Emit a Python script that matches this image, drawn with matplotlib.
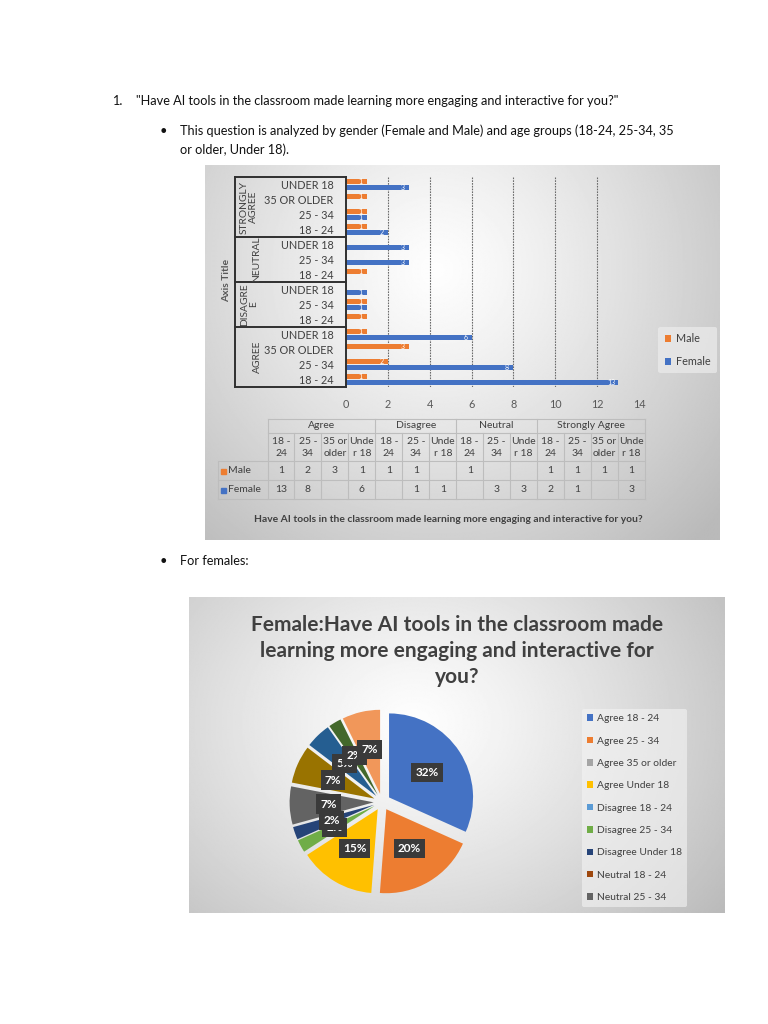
import numpy as np
import matplotlib
matplotlib.use('Agg')
import matplotlib.pyplot as plt
import matplotlib.transforms as mtrans
from matplotlib.lines import Line2D

plt.rcParams['font.family'] = ['Lato', 'DejaVu Sans']

# ---------------- data ----------------
groups = ['Agree', 'Disagree', 'Neutral', 'Strongly Agree']
group_axis_labels = ['AGREE', 'DISAGRE\nE', 'NEUTRAL', 'STRONGLY\nAGREE']
group_ages = [['18 - 24', '25 - 34', '35 or older', 'Under 18'],
              ['18 - 24', '25 - 34', 'Under 18'],
              ['18 - 24', '25 - 34', 'Under 18'],
              ['18 - 24', '25 - 34', '35 or older', 'Under 18']]
table_age_labels = {'18 - 24': '18 -\n24', '25 - 34': '25 -\n34',
                    '35 or older': '35 or\nolder', 'Under 18': 'Unde\nr 18'}
male = [1, 2, 3, 1, 1, 1, None, 1, None, None, 1, 1, 1, 1]
female = [13, 8, None, 6, None, 1, 1, None, 3, 3, 2, 1, None, 3]
series_names = ['Male', 'Female']
series_colors = ['#ED7D31', '#4472C4']
bar_title = 'Have AI tools in the classroom made learning more engaging and interactive for you?'
pie_title = 'Female:Have AI tools in the classroom made\nlearning more engaging and interactive for\nyou?'
pie_colors = ['#4472C4', '#ED7D31', '#A5A5A5', '#FFC000', '#5B9BD5', '#70AD47', '#264478',
              '#9E480E', '#636363', '#997300', '#255E91', '#43682B', '#698ED0', '#F1975A']
legend_shown = 9

ages_flat = [a for ages in group_ages for a in ages]
groups_flat = [g for g, ages in zip(groups, group_ages) for a in ages]
pie_labels = [f'{g} {a}' for g, a in zip(groups_flat, ages_flat)]
pie_values = [v if v is not None else 0 for v in female]

# ---------------- figure ----------------
W, H = 768, 1024
fig = plt.figure(figsize=(W / 100, H / 100), dpi=100)
fig.patch.set_facecolor('white')


def add_ax(x0, y0, x1, y1, **kw):
    return fig.add_axes([x0 / W, 1 - y1 / H, (x1 - x0) / W, (y1 - y0) / H], **kw)


def gradient(ax, cx, cy, rx, ry, inner, outer, power=1.2):
    yy, xx = np.mgrid[0:1:300j, 0:1:400j]
    d = np.sqrt(((xx - cx) / rx) ** 2 + ((yy - cy) / ry) ** 2)
    t = np.clip(d, 0, 1) ** power
    img = inner * (1 - t) + outer * t
    ax.imshow(img, cmap='gray', vmin=0, vmax=1, extent=[0, 1, 0, 1], aspect='auto', origin='upper')
    ax.set_axis_off()


TXT = '#404040'

# backgrounds
bg1 = add_ax(205, 165, 720, 540)
gradient(bg1, 0.45, 0.28, 0.72, 1.0, 0.995, 0.73)
bg2 = add_ax(189, 597, 725, 913)
gradient(bg2, 0.42, 0.40, 0.72, 1.0, 0.995, 0.73)

# ---------------- bar chart ----------------
ax = add_ax(346, 177, 639, 387)
ax.set_facecolor('none')
y = np.arange(len(male))
mv = [v if v is not None else 0 for v in male]
fv = [v if v is not None else 0 for v in female]
bm = ax.barh(y + 0.21, mv, height=0.34, color=series_colors[0], label=series_names[0])
bf = ax.barh(y - 0.21, fv, height=0.34, color=series_colors[1], label=series_names[1])
for vals, off in ((male, 0.21), (female, -0.21)):
    for yi, v in zip(y, vals):
        if v:
            ax.text(v - 0.3, yi + off, str(v), color='white', fontsize=5, ha='center', va='center')

ax.set_xlim(0, 14)
ax.set_ylim(-0.5, len(male) - 0.5)
ax.set_xticks(range(0, 15, 2))
for t in ax.get_xticks()[1:-1]:
    ax.axvline(t, color='#6b6b6b', lw=0.8, ls=(0, (1.5, 1)), zorder=0)
ax.tick_params(axis='x', length=0, pad=9, labelsize=7.8, labelcolor='#595959')
ax.set_yticks(y)
ax.set_yticklabels([a.upper() for a in ages_flat], fontsize=7.8, color=TXT)
ax.tick_params(axis='y', length=0, pad=9)
for s in ('top', 'right', 'bottom'):
    ax.spines[s].set_visible(False)
ax.spines['left'].set_color('#303030')
ax.spines['left'].set_linewidth(1.4)

trans = mtrans.blended_transform_factory(ax.transAxes, ax.transData)
xl = (235 - 346) / 293
bounds = np.concatenate([[0], np.cumsum([len(a) for a in group_ages])]) - 0.5
for b in bounds:
    ax.add_line(Line2D([xl, 0], [b, b], transform=trans, color='#303030', lw=1.4, clip_on=False))
ax.add_line(Line2D([xl, xl], [bounds[0], bounds[-1]], transform=trans, color='#303030', lw=1.4, clip_on=False))
for lab, lo, hi in zip(group_axis_labels, bounds[:-1], bounds[1:]):
    xpos = (249 - 346) / 293 if '\n' in lab else (257 - 346) / 293
    ax.text(xpos, (lo + hi) / 2, lab, rotation=90, ha='center', va='center', transform=trans,
            fontsize=7.4, color=TXT, multialignment='center', linespacing=1.05)
ax.text((227 - 346) / 293, 6.63, 'Axis Title', rotation=90, ha='center', va='center', transform=trans,
        fontsize=7.5, color='#595959', fontweight='bold')

leg = ax.legend(handles=[bm, bf], loc='center left', bbox_to_anchor=(653 / W, 1 - 350 / H),
                bbox_transform=fig.transFigure, frameon=True, facecolor='#ececec', edgecolor='none',
                framealpha=0.7, fontsize=7.8, handlelength=0.6, handleheight=0.6, handletextpad=0.4,
                labelspacing=1.1, borderpad=0.6)
for t in leg.get_texts():
    t.set_color(TXT)

# ---------------- overlay (page text, data table) ----------------
ov = add_ax(0, 0, W, H)
ov.set_xlim(0, W)
ov.set_ylim(H, 0)
ov.set_axis_off()
ov.patch.set_alpha(0)

body = dict(fontsize=9.2, color='#111111', va='center', ha='left')
ov.text(112, 101, '1.', **body)
ov.text(136, 101, '"' + bar_title + '"', **body)
ov.text(160, 131, '\u2022', **body)
ov.text(180, 131, 'This question is analyzed by gender (Female and Male) and age groups (18-24, 25-34, 35', **body)
ov.text(180, 150, 'or older, Under 18).', **body)
ov.text(160, 561, '\u2022', **body)
ov.text(180, 561, 'For females:', **body)

# table
tx0, tx1 = 267.5, 645
ncol = len(ages_flat)
cw = (tx1 - tx0) / ncol
ry = [419, 433, 461, 480, 499]
lx = 218
lc = dict(color='#bdbdbd', lw=0.8)
ov.plot([tx0, tx1], [ry[0], ry[0]], **lc)
ov.plot([tx0, tx1], [ry[1], ry[1]], **lc)
for yy in ry[2:]:
    ov.plot([lx, tx1], [yy, yy], **lc)
ov.plot([lx, lx], [ry[2], ry[4]], **lc)
gstarts = [0] + list(np.cumsum([len(a) for a in group_ages]))
for i in range(ncol + 1):
    top = ry[0] if i in gstarts else ry[1]
    x = tx0 + i * cw
    ov.plot([x, x], [top, ry[4]], **lc)
tsz = 7.5
for g, s, e in zip(groups, gstarts[:-1], gstarts[1:]):
    ov.text(tx0 + (s + e) / 2 * cw, (ry[0] + ry[1]) / 2, g, ha='center', va='center', fontsize=tsz, color=TXT)
for i, a in enumerate(ages_flat):
    xc = tx0 + (i + 0.5) * cw
    ov.text(xc, (ry[1] + ry[2]) / 2 + 0.5, table_age_labels[a], ha='center', va='center', fontsize=tsz,
            color=TXT, linespacing=1.35)
for r, (name, col, vals) in enumerate(zip(series_names, series_colors, [male, female])):
    yc = (ry[2 + r] + ry[3 + r]) / 2
    ov.plot([223], [yc], marker='s', ms=3.6, color=col, ls='none')
    ov.text(228, yc, name, ha='left', va='center', fontsize=tsz, color=TXT)
    for i, v in enumerate(vals):
        if v is not None:
            ov.text(tx0 + (i + 0.5) * cw, yc, str(v), ha='center', va='center', fontsize=tsz, color=TXT)
ov.text(448, 520, bar_title, ha='center', va='center', fontsize=7.4, fontweight='bold', color=TXT)

# pie title
ov.text(457, 651, pie_title, ha='center', va='center', fontsize=15, fontweight='bold', color=TXT,
        linespacing=1.38)

# ---------------- pie chart ----------------
cx, cy, r = 382, 802, 84
pax = add_ax(cx - 100, cy - 100, cx + 100, cy + 100)
pax.set_facecolor('none')


def fmt(p):
    return f'{p:.0f}%' if p > 0 else ''


wedges, _, autotexts = pax.pie(pie_values, colors=pie_colors, explode=[0.1] * len(pie_values),
                               startangle=90, counterclock=False, autopct=fmt, pctdistance=0.54,
                               wedgeprops=dict(linewidth=0),
                               textprops=dict(color='white', fontsize=8.5, fontweight='bold'))
for t in autotexts:
    if t.get_text():
        t.set_bbox(dict(boxstyle='square,pad=0.35', fc='#3a3a3a', ec='none'))
lim = 100 / r
pax.set_xlim(-lim, lim)
pax.set_ylim(-lim, lim)
pax.set_aspect('equal')

pleg = pax.legend(wedges[:legend_shown], pie_labels[:legend_shown], loc='upper left',
                  bbox_to_anchor=(577 / W, 1 - 704 / H), bbox_transform=fig.transFigure,
                  fontsize=7.4, frameon=True, facecolor='#f4f4f4', edgecolor='none', framealpha=0.6,
                  handlelength=0.6, handleheight=0.6, handletextpad=0.3, labelspacing=1.3,
                  borderpad=0.5)
for t in pleg.get_texts():
    t.set_color(TXT)

fig.savefig('out.png', dpi=100, facecolor='white')
